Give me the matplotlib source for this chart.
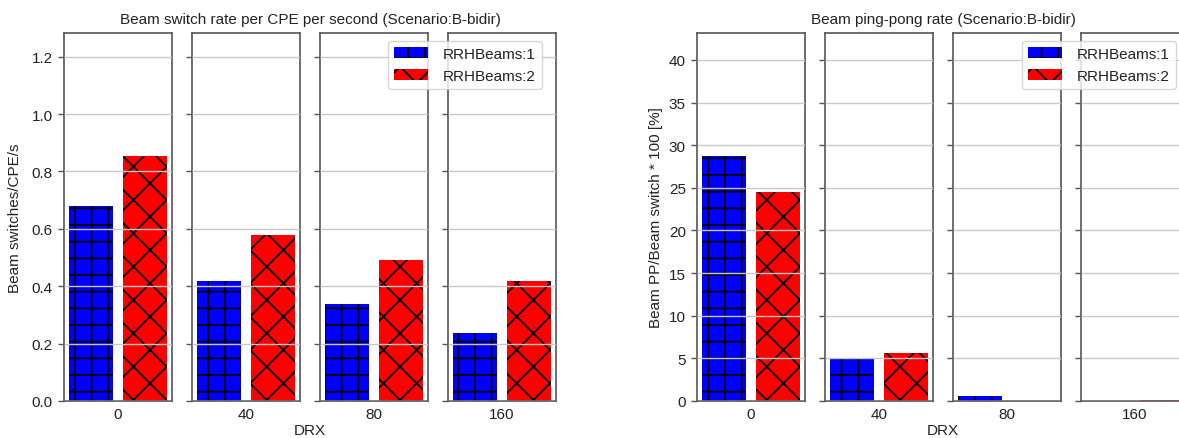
import matplotlib
matplotlib.use("Agg")
import matplotlib.pyplot as plt
from matplotlib.patches import Patch

# ---- data -------------------------------------------------------------
drx_values = ["0", "40", "80", "160"]
series_names = ["RRHBeams:1", "RRHBeams:2"]

# Beam switches per CPE per second
switch_rate_beams1 = [0.681, 0.418, 0.337, 0.237]
switch_rate_beams2 = [0.855, 0.579, 0.493, 0.418]

# Beam ping-pong / beam switch * 100 [%]
pingpong_beams1 = [28.77, 4.95, 0.55, 0.0]
pingpong_beams2 = [24.48, 5.63, 0.0, 0.15]

# ---- style ------------------------------------------------------------
plt.rcParams["font.family"] = ["Liberation Sans", "DejaVu Sans"]
plt.rcParams["hatch.linewidth"] = 1.3
FS = 11
TEXT = "#222222"
SPINE = "#555555"
colors = ["#0000ff", "#ff0000"]
hatches = ["+", "x"]

W, H = 1179, 439
fig = plt.figure(figsize=(W / 100, H / 100), dpi=100)

PANEL_W = 108
TOP, BOTTOM = 34, 402


def add_px_axes(x0):
    return fig.add_axes([x0 / W, 1 - BOTTOM / H, PANEL_W / W, (BOTTOM - TOP) / H])


def facet_group(lefts, s1, s2, ymax, yticks, ytick_fmt, title, ylabel, ylabel_x,
                legend_x):
    axes = []
    for i, x0 in enumerate(lefts):
        ax = add_px_axes(x0)
        vals = [s1[i], s2[i]]
        for j in range(2):
            ax.bar(j, vals[j], width=0.8, color=colors[j], hatch=hatches[j],
                   edgecolor="black", linewidth=0)
        ax.set_xlim(-0.5, 1.5)
        ax.set_ylim(0, ymax)
        ax.set_yticks(yticks)
        ax.set_yticklabels([ytick_fmt(v) for v in yticks])
        ax.set_xticks([0.5])
        ax.set_xticklabels([drx_values[i]])
        ax.tick_params(axis="x", length=0, pad=4, labelsize=FS, colors=TEXT)
        ax.tick_params(axis="y", direction="out", length=4, width=1,
                       color=SPINE, labelsize=FS, labelcolor=TEXT, pad=4,
                       labelleft=(i == 0))
        ax.yaxis.grid(True, color="#c8c8c8", linewidth=1.0)
        ax.set_axisbelow(False)
        for sp in ax.spines.values():
            sp.set_color(SPINE)
            sp.set_linewidth(1.2)
        axes.append(ax)

    x_left = lefts[0]
    x_right = lefts[-1] + PANEL_W
    xc = (x_left + x_right) / 2
    fig.text(xc / W, 1 - 20 / H, title, ha="center", va="center",
             fontsize=FS, color=TEXT)
    fig.text(xc / W, 1 - 431 / H, "DRX", ha="center", va="center",
             fontsize=FS, color=TEXT)
    fig.text(ylabel_x / W, 1 - ((TOP + BOTTOM) / 2) / H, ylabel,
             rotation=90, ha="center", va="center", fontsize=FS, color=TEXT)

    handles = [Patch(facecolor=colors[j], hatch=hatches[j], edgecolor="black",
                     linewidth=0) for j in range(2)]
    fig.legend(handles, series_names, loc="upper left",
               bbox_to_anchor=(legend_x / W, 1 - 42 / H),
               borderaxespad=0, fontsize=FS, handlelength=2.2,
               handletextpad=1.0, labelspacing=0.5, frameon=True,
               fancybox=True, framealpha=0.8, labelcolor=TEXT)
    return axes


facet_group([64, 192, 320, 448], switch_rate_beams1, switch_rate_beams2,
            1.2825, [0.0, 0.2, 0.4, 0.6, 0.8, 1.0, 1.2], lambda v: f"{v:.1f}",
            "Beam switch rate per CPE per second (Scenario:B-bidir)",
            "Beam switches/CPE/s", 15, 388)

facet_group([697, 825, 953, 1081], pingpong_beams1, pingpong_beams2,
            43.16, [0, 5, 10, 15, 20, 25, 30, 35, 40], lambda v: f"{v:d}",
            "Beam ping-pong rate (Scenario:B-bidir)",
            "Beam PP/Beam switch * 100 [%]", 656, 1022)

fig.savefig("out.png", dpi=100)
